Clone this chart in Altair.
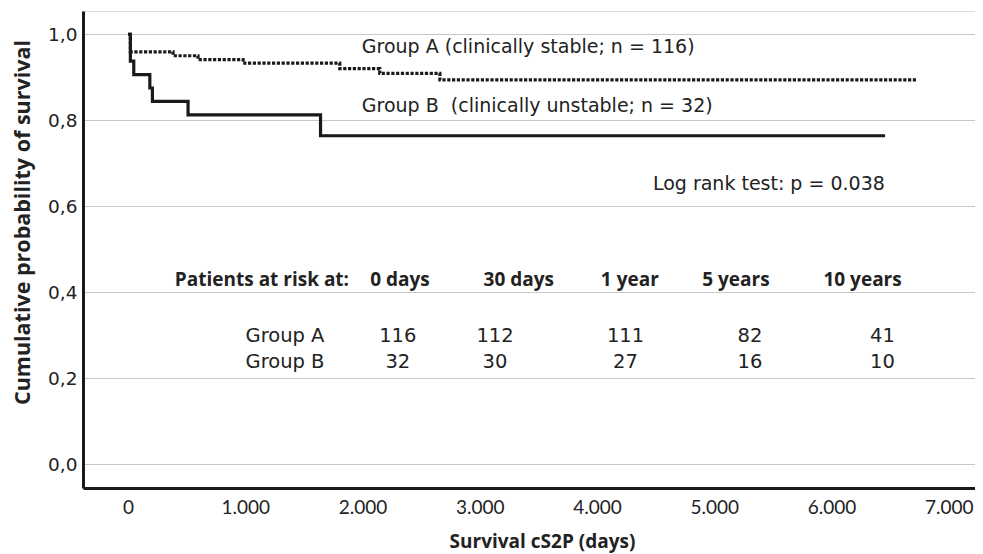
import altair as alt
import pandas as pd

# ---- data ----
a_days = [0, 20, 384, 597, 981, 1806, 2147, 2660, 6729]
a_surv = [1.0, 0.959, 0.950, 0.941, 0.933, 0.920, 0.909, 0.894, 0.894]
b_days = [0, 20, 49, 186, 208, 512, 1642, 6457]
b_surv = [1.0, 0.9375, 0.906, 0.875, 0.844, 0.8125, 0.764, 0.764]

risk_headers = ["0 days", "30 days", "1 year", "5 years", "10 years"]
risk_a = [116, 112, 111, 82, 41]
risk_b = [32, 30, 27, 16, 10]

label_a = "Group A (clinically stable; n = 116)"
label_b = "Group B \u00a0(clinically unstable; n = 32)"
logrank = "Log rank test: p = 0.038"

# ---- layout (data units) ----
header_x = [2320, 3333, 4280, 5185, 6265]
number_x = [2301, 3130, 4243, 5305, 6435]
rowlabel_x = 1339
header_y, rowa_y, rowb_y = 0.428, 0.298, 0.237

XDOM = [-384, 7224]
YDOM = [-0.055, 1.054]
INK = "#1a1a1a"
TEXT = "#222222"
PLAIN_FONT = "DejaVu Sans"
BOLD_FONT = "Open Sans"

xs = alt.Scale(domain=XDOM, nice=False, zero=False)
ys = alt.Scale(domain=YDOM, nice=False, zero=False)

df_a = pd.DataFrame({"t": a_days, "s": a_surv})
df_b = pd.DataFrame({"t": b_days, "s": b_surv})

x_axis = alt.Axis(
    values=list(range(0, 7001, 1000)),
    labelExpr="replace(format(datum.value, ','), ',', '.')",
    grid=False, ticks=False, domainWidth=3, domainColor=INK,
    labelFont="Lato", labelFontSize=19, labelColor=TEXT, labelPadding=10,
    title="Survival cS2P (days)", titleFont=BOLD_FONT, titleFontSize=19,
    titleFontWeight="bold", titleColor=TEXT,
    titleX=459, titleY=53, titleBaseline="middle", titleAlign="center",
)
y_axis = alt.Axis(
    values=[0, 0.2, 0.4, 0.6, 0.8, 1.0],
    labelExpr="replace(format(datum.value, '.1f'), '.', ',')",
    grid=True, gridColor="#c8c8c8", gridWidth=1.2,
    ticks=False, domainWidth=3, domainColor=INK,
    labelFont=PLAIN_FONT, labelFontSize=18.5, labelColor=TEXT, labelPadding=6,
    title="Cumulative probability of survival", titleFont=BOLD_FONT,
    titleFontSize=21.5, titleFontWeight="bold", titleColor=TEXT,
    titleX=-60, titleY=211, titleBaseline="middle", titleAlign="center", titleAngle=-90,
)

line_a = alt.Chart(df_a).mark_line(
    interpolate="step-after", color=INK, strokeWidth=3.2, strokeDash=[3.2, 1.6], strokeCap="butt"
).encode(x=alt.X("t:Q", scale=xs, axis=x_axis), y=alt.Y("s:Q", scale=ys, axis=y_axis))

line_b = alt.Chart(df_b).mark_line(
    interpolate="step-after", color=INK, strokeWidth=3.2
).encode(x=alt.X("t:Q", scale=xs), y=alt.Y("s:Q", scale=ys))

ann = pd.DataFrame({
    "text": [label_a, label_b, logrank],
    "x": [1994, 1994, 4477],
    "y": [0.970, 0.833, 0.651],
})
ann_layer = alt.Chart(ann).mark_text(
    align="left", baseline="middle", font=PLAIN_FONT, fontSize=19, color=TEXT
).encode(x=alt.X("x:Q", scale=xs), y=alt.Y("y:Q", scale=ys), text="text:N")

hdr_title = pd.DataFrame({"text": ["Patients at risk at:"], "x": [1885], "y": [header_y]})
hdr_title_layer = alt.Chart(hdr_title).mark_text(
    align="right", baseline="middle", font=BOLD_FONT, fontSize=19, fontWeight="bold", color=TEXT
).encode(x=alt.X("x:Q", scale=xs), y=alt.Y("y:Q", scale=ys), text="text:N")

hdr = pd.DataFrame({"text": risk_headers, "x": header_x, "y": [header_y] * 5})
hdr_layer = alt.Chart(hdr).mark_text(
    align="center", baseline="middle", font=BOLD_FONT, fontSize=19, fontWeight="bold", color=TEXT
).encode(x=alt.X("x:Q", scale=xs), y=alt.Y("y:Q", scale=ys), text="text:N")

body = pd.DataFrame({
    "text": ["Group A", "Group B"] + [str(v) for v in risk_a] + [str(v) for v in risk_b],
    "x": [rowlabel_x, rowlabel_x] + number_x + number_x,
    "y": [rowa_y, rowb_y] + [rowa_y] * 5 + [rowb_y] * 5,
})
body_layer = alt.Chart(body).mark_text(
    align="center", baseline="middle", font=PLAIN_FONT, fontSize=19.5, color=TEXT
).encode(x=alt.X("x:Q", scale=xs), y=alt.Y("y:Q", scale=ys), text="text:N")

chart = alt.layer(
    line_a, line_b, ann_layer, hdr_title_layer, hdr_layer, body_layer
).properties(
    width=892, height=477,
    autosize=alt.AutoSizeParams(type="none"),
    padding={"left": 75, "top": 3, "right": 0, "bottom": 66},
).configure_view(stroke=None).configure(background="white")

chart.save("out.html", embed_options={"renderer": "svg", "actions": False})
